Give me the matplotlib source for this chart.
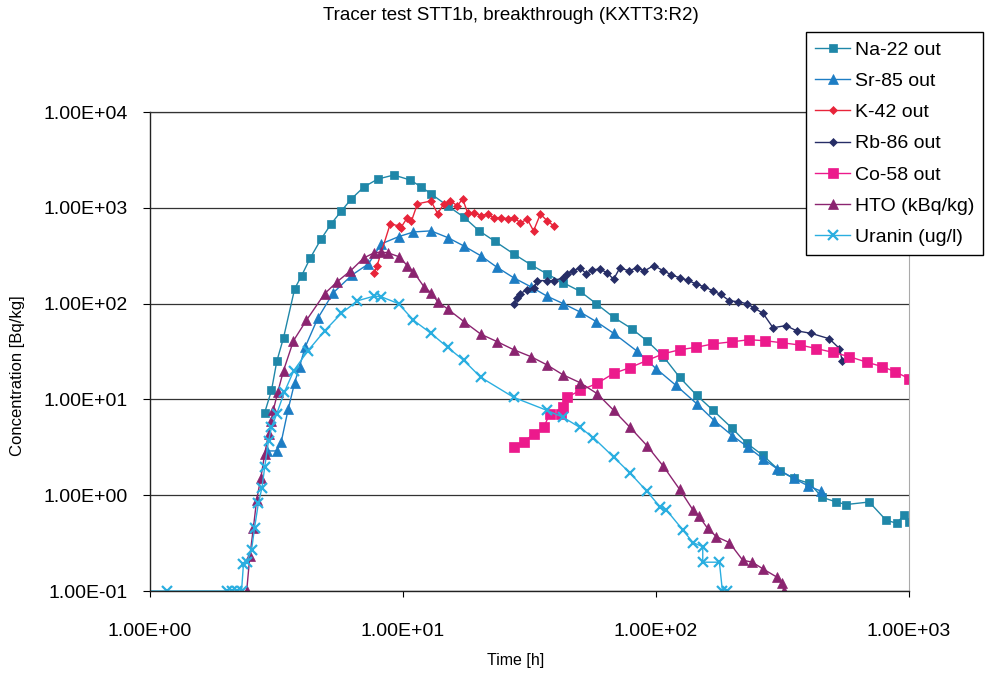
import matplotlib
matplotlib.use('Agg')
import matplotlib.pyplot as plt
from matplotlib.ticker import FixedLocator, FuncFormatter

plt.rcParams['font.family'] = ['Liberation Sans', 'DejaVu Sans']

# time [h] / concentration pairs, one pair of lists per tracer
na22_t = [2.84, 3.02, 3.17, 3.37, 3.73, 3.97, 4.3, 4.75, 5.2, 5.7, 6.25, 7.0, 7.95, 9.2,
          10.7, 11.8, 12.9, 15, 17.4, 20, 23, 27.4, 32, 37, 43, 50, 58, 68, 80, 92,
          107, 124, 145, 168, 200, 228, 265, 308, 350, 404, 454, 516, 565, 696, 811,
          893, 955, 1000]
na22_c = [7.3, 12.4, 25, 44, 143, 195, 300, 475, 680, 925, 1240, 1650, 2000, 2200,
          1950, 1650, 1400, 1050, 800, 575, 450, 330, 255, 205, 165, 135, 100, 72, 55, 41,
          28, 17, 11, 7.7, 5, 3.5, 2.6, 1.8, 1.5, 1.33, 0.95, 0.85, 0.8, 0.85, 0.55,
          0.51, 0.62, 0.53]

sr85_t = [2.9, 3.17, 3.3, 3.52, 3.73, 3.9, 4.1, 4.6, 5.3, 6.3, 7.3, 8.2, 9.6, 11, 12.9,
          15, 17.4, 20.3, 23.5, 27.4, 32, 37, 43, 50, 58, 68, 84, 100, 120, 145, 170,
          200, 230, 265, 300, 350, 400, 450]
sr85_c = [2.9, 2.9, 3.6, 8, 15, 22, 35, 70, 130, 200, 260, 420, 500, 560, 575,
          490, 400, 316, 240, 186, 150, 120, 100, 82, 65, 49, 32, 21, 14, 9, 6,
          4.2, 3.2, 2.4, 1.9, 1.5, 1.25, 1.1]

k42_t = [7.7, 7.9, 8.9, 9.6, 9.8, 10.4, 10.8, 11.4, 12.9, 13.7, 14.5, 15.4, 16.4, 17.2,
         18.0, 19.0, 20.3, 21.6, 22.8, 24.3, 25.9, 27.4, 29.1, 31, 32.8, 34.9, 37.2, 39.4]
k42_c = [210, 250, 680, 650, 620, 790, 730, 1100, 1180, 870, 1100, 1180, 1050, 1240,
         890, 890, 830, 860, 790, 790, 770, 790, 700, 760, 575, 860, 730, 650]

rb86_t = [27.4, 28.3, 29, 31, 33, 34, 37, 39.4, 43, 44.5, 47, 50, 53, 56, 60, 64, 68,
          72, 78, 84, 90, 98, 107, 115, 124, 134, 144, 155, 168, 180, 195, 210, 228,
          245, 265, 290, 326, 360, 410, 484, 531, 545]
rb86_c = [100, 115, 127, 140, 147, 174, 174, 174, 186, 205, 220, 237, 205, 225, 230, 210, 180,
          237, 220, 237, 220, 250, 220, 200, 186, 175, 160, 150, 136, 125, 107, 105, 100,
          90, 79, 56, 59, 52, 49, 43, 34, 25]

co58_t = [27.4, 30, 33, 36, 38, 42, 43, 44.5, 50, 58.5, 68, 79, 92, 107, 124, 144, 168,
          200, 233, 270, 316, 370, 430, 500, 580, 680, 785, 880, 1000]
co58_c = [3.2, 3.6, 4.4, 5.1, 7.1, 7.1, 8.3, 10.5, 12.4, 14.7, 18.7, 21.5, 25.5, 30, 33, 35, 38,
          40, 42, 41, 39, 37, 34, 31, 28, 24.5, 22, 19.5, 16.5]

hto_t = [2.41, 2.48, 2.56, 2.64, 2.74, 2.84, 2.94, 3.02, 3.07, 3.2, 3.37, 3.69, 4.15, 4.9,
         5.5, 6.2, 7.0, 7.7, 8.2, 8.7, 9.6, 10.4, 11.0, 12.1, 12.9, 13.7, 15, 17.4, 20.3,
         23.6, 27.4, 32, 37, 43, 50, 58.5, 68, 79, 92, 107, 124, 140, 148, 160, 173,
         195, 220, 240, 265, 300, 316, 320]
hto_c = [0.1, 0.23, 0.45, 0.9, 1.5, 2.7, 4.4, 6.0, 7.7, 12, 20, 41, 67, 127,
         170, 220, 300, 340, 345, 340, 310, 250, 215, 150, 130, 105, 88, 65, 48,
         40, 33, 28, 23, 18, 15, 11.5, 7.7, 5.1, 3.3, 2.0, 1.15, 0.7, 0.6, 0.45, 0.37,
         0.32, 0.21, 0.2, 0.17, 0.14, 0.12, 0.1]

uranin_t = [0.9, 1.17, 2.01, 2.1, 2.2, 2.3, 2.34, 2.41, 2.52, 2.59, 2.68, 2.77, 2.84, 2.94,
            3.02, 3.17, 3.4, 3.7, 4.2, 4.9, 5.7, 6.6, 7.7, 8.2, 9.6, 11, 12.9, 15, 17.4,
            20.3, 27.4, 37, 43, 50, 56.5, 68, 79, 92, 104, 110, 128, 140, 153, 153, 178,
            183, 190]
uranin_c = [0.1, 0.1, 0.1, 0.1, 0.1, 0.1, 0.19, 0.2, 0.27, 0.46, 0.82, 1.2, 1.97, 3.7,
            5.1, 7.1, 12, 20, 32, 52, 79, 107, 120, 118, 100, 67, 49, 35, 25.5,
            17, 10.5, 7.7, 6.5, 5.1, 4.0, 2.5, 1.7, 1.1, 0.75, 0.7, 0.43, 0.32, 0.29, 0.2, 0.2,
            0.1, 0.1]

series = [
    ('Na-22 out', na22_t, na22_c, '#1f87a8', 's', 6),
    ('Sr-85 out', sr85_t, sr85_c, '#1d7dc4', '^', 7),
    ('K-42 out', k42_t, k42_c, '#e8243a', 'D', 4.5),
    ('Rb-86 out', rb86_t, rb86_c, '#262d66', 'D', 4.5),
    ('Co-58 out', co58_t, co58_c, '#ec1a8c', 's', 6.5),
    ('HTO (kBq/kg)', hto_t, hto_c, '#8b2470', '^', 7),
    ('Uranin (ug/l)', uranin_t, uranin_c, '#2aaee0', 'x', 7),
]

fig = plt.figure(figsize=(9.87, 6.75), dpi=100)
ax = fig.add_axes([0.152, 0.1244, 0.769, 0.7096])

for label, t, c, col, mk, ms in series:
    ax.plot(t, c, color=col, lw=1, marker=mk, ms=ms, mew=1.6 if mk == 'x' else 0.5,
            mec=col, mfc=col, label=label)

ax.set_xscale('log')
ax.set_yscale('log')
ax.set_xlim(1, 1000)
ax.set_ylim(0.1, 1e4)

decades_x = [1, 10, 100, 1000]
decades_y = [0.1, 1, 10, 100, 1000, 10000]
sci = FuncFormatter(lambda v, pos: f'{v:.2E}')
ax.xaxis.set_major_locator(FixedLocator(decades_x))
ax.yaxis.set_major_locator(FixedLocator(decades_y))
ax.xaxis.set_minor_locator(FixedLocator([]))
ax.yaxis.set_minor_locator(FixedLocator([]))
ax.xaxis.set_major_formatter(sci)
ax.yaxis.set_major_formatter(sci)
ax.tick_params(axis='x', direction='out', length=4, width=0.8, pad=19, labelsize=14)
ax.tick_params(axis='y', direction='out', length=5, width=0.8, pad=11, labelsize=14)

ax.grid(axis='y', color='#333333', lw=0.9)
ax.grid(axis='x', visible=False)
ax.set_axisbelow(True)
for side in ['left', 'bottom']:
    ax.spines[side].set_color('#222222')
    ax.spines[side].set_linewidth(1)
ax.spines['top'].set_color('#333333')
ax.spines['top'].set_linewidth(0.9)
ax.spines['right'].set_color('#aaaaaa')
ax.spines['right'].set_linewidth(0.8)

fig.text(0.518, 0.977, 'Tracer test STT1b, breakthrough (KXTT3:R2)', ha='center', va='center', fontsize=13.5)
fig.text(0.522, 0.022, 'Time [h]', ha='center', va='center', fontsize=11.5)
fig.text(0.018, 0.444, 'Concentration [Bq/kg]', ha='center', va='center', rotation=90, fontsize=12)

leg = ax.legend(loc='upper left', bbox_to_anchor=(0.817, 0.952), bbox_transform=fig.transFigure,
                fontsize=14, frameon=True, fancybox=False, framealpha=1, edgecolor='black',
                handlelength=1.8, handletextpad=0.25, borderpad=0.45, labelspacing=0.7,
                borderaxespad=0)
leg.get_frame().set_linewidth(1)
leg.set_zorder(10)

fig.savefig('out.png', dpi=100)
